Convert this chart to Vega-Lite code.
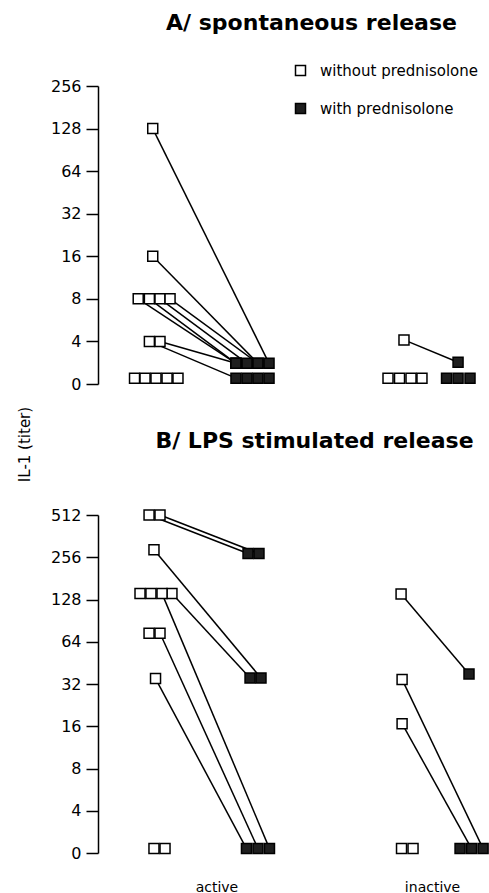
{
  "$schema": "https://vega.github.io/schema/vega-lite/v6.json",
  "padding": {"left": 17, "top": 12, "right": 0, "bottom": 0},
  "background": "white",
  "bounds": "flush",
  "spacing": 131,
  "config": {
    "font": "DejaVu Sans",
    "view": {"stroke": null},
    "axis": {"domainColor": "black", "domainWidth": 1.5, "tickColor": "black", "tickWidth": 1.5, "tickSize": 12, "labelColor": "black", "labelFont": "DejaVu Sans", "labelFontSize": 16, "labelPadding": 5, "grid": false, "titleColor": "black", "titleFont": "DejaVu Sans"},
    "title": {"font": "DejaVu Sans", "fontSize": 22, "fontWeight": "bold", "color": "black", "anchor": "middle", "frame": "group", "baseline": "alphabetic"}
  },
  "resolve": {"scale": {"x": "independent", "y": "independent"}, "legend": {"fill": "independent"}},
  "datasets": {
    "pts": [
      {"panel": "A", "treatment": "without prednisolone", "pos": 4.9, "titer": 128, "patient": "a1"},
      {"panel": "A", "treatment": "without prednisolone", "pos": 4.9, "titer": 16, "patient": "a2"},
      {"panel": "A", "treatment": "without prednisolone", "pos": 3.6, "titer": 8, "patient": "a3"},
      {"panel": "A", "treatment": "without prednisolone", "pos": 4.6, "titer": 8, "patient": "a4"},
      {"panel": "A", "treatment": "without prednisolone", "pos": 5.55, "titer": 8, "patient": "a5"},
      {"panel": "A", "treatment": "without prednisolone", "pos": 6.45, "titer": 8, "patient": "a6"},
      {"panel": "A", "treatment": "without prednisolone", "pos": 4.6, "titer": 4, "patient": "a7"},
      {"panel": "A", "treatment": "without prednisolone", "pos": 5.55, "titer": 4, "patient": "a8"},
      {"panel": "A", "treatment": "without prednisolone", "pos": 3.27, "titer": 2.2},
      {"panel": "A", "treatment": "without prednisolone", "pos": 4.21, "titer": 2.2},
      {"panel": "A", "treatment": "without prednisolone", "pos": 5.19, "titer": 2.2},
      {"panel": "A", "treatment": "without prednisolone", "pos": 6.18, "titer": 2.2},
      {"panel": "A", "treatment": "without prednisolone", "pos": 7.16, "titer": 2.2},
      {"panel": "A", "treatment": "without prednisolone", "pos": 27.39, "titer": 4.1, "patient": "a9"},
      {"panel": "A", "treatment": "without prednisolone", "pos": 25.96, "titer": 2.2},
      {"panel": "A", "treatment": "without prednisolone", "pos": 26.99, "titer": 2.2},
      {"panel": "A", "treatment": "without prednisolone", "pos": 28.02, "titer": 2.2},
      {"panel": "A", "treatment": "without prednisolone", "pos": 29.0, "titer": 2.2},
      {"panel": "A", "treatment": "with prednisolone", "pos": 15.31, "titer": 2.8, "patient": "a1"},
      {"panel": "A", "treatment": "with prednisolone", "pos": 14.32, "titer": 2.8, "patient": "a2"},
      {"panel": "A", "treatment": "with prednisolone", "pos": 12.35, "titer": 2.8, "patient": "a3"},
      {"panel": "A", "treatment": "with prednisolone", "pos": 12.35, "titer": 2.8, "patient": "a4"},
      {"panel": "A", "treatment": "with prednisolone", "pos": 13.34, "titer": 2.8, "patient": "a5"},
      {"panel": "A", "treatment": "with prednisolone", "pos": 14.32, "titer": 2.8, "patient": "a6"},
      {"panel": "A", "treatment": "with prednisolone", "pos": 12.35, "titer": 2.2, "patient": "a7"},
      {"panel": "A", "treatment": "with prednisolone", "pos": 12.35, "titer": 2.8, "patient": "a8"},
      {"panel": "A", "treatment": "with prednisolone", "pos": 13.34, "titer": 2.2},
      {"panel": "A", "treatment": "with prednisolone", "pos": 14.32, "titer": 2.2},
      {"panel": "A", "treatment": "with prednisolone", "pos": 15.31, "titer": 2.2},
      {"panel": "A", "treatment": "with prednisolone", "pos": 32.23, "titer": 2.85, "patient": "a9"},
      {"panel": "A", "treatment": "with prednisolone", "pos": 31.2, "titer": 2.2},
      {"panel": "A", "treatment": "with prednisolone", "pos": 32.23, "titer": 2.2},
      {"panel": "A", "treatment": "with prednisolone", "pos": 33.3, "titer": 2.2},
      {"panel": "B", "treatment": "without prednisolone", "pos": 4.57, "titer": 512, "patient": "b1"},
      {"panel": "B", "treatment": "without prednisolone", "pos": 5.55, "titer": 512, "patient": "b2"},
      {"panel": "B", "treatment": "without prednisolone", "pos": 5.01, "titer": 290, "patient": "b3"},
      {"panel": "B", "treatment": "without prednisolone", "pos": 6.62, "titer": 141, "patient": "b4"},
      {"panel": "B", "treatment": "without prednisolone", "pos": 5.73, "titer": 141, "patient": "b5"},
      {"panel": "B", "treatment": "without prednisolone", "pos": 5.55, "titer": 73.5, "patient": "b6"},
      {"panel": "B", "treatment": "without prednisolone", "pos": 5.15, "titer": 35, "patient": "b7"},
      {"panel": "B", "treatment": "without prednisolone", "pos": 3.76, "titer": 141},
      {"panel": "B", "treatment": "without prednisolone", "pos": 4.74, "titer": 141},
      {"panel": "B", "treatment": "without prednisolone", "pos": 4.57, "titer": 73.5},
      {"panel": "B", "treatment": "without prednisolone", "pos": 5.01, "titer": 2.15},
      {"panel": "B", "treatment": "without prednisolone", "pos": 6.0, "titer": 2.15},
      {"panel": "B", "treatment": "without prednisolone", "pos": 27.13, "titer": 140, "patient": "b8"},
      {"panel": "B", "treatment": "without prednisolone", "pos": 27.22, "titer": 34.5, "patient": "b9"},
      {"panel": "B", "treatment": "without prednisolone", "pos": 27.22, "titer": 16.7, "patient": "b10"},
      {"panel": "B", "treatment": "without prednisolone", "pos": 27.17, "titer": 2.15},
      {"panel": "B", "treatment": "without prednisolone", "pos": 28.2, "titer": 2.15},
      {"panel": "B", "treatment": "with prednisolone", "pos": 13.43, "titer": 272, "patient": "b1"},
      {"panel": "B", "treatment": "with prednisolone", "pos": 14.41, "titer": 272, "patient": "b2"},
      {"panel": "B", "treatment": "with prednisolone", "pos": 14.59, "titer": 35.3, "patient": "b3"},
      {"panel": "B", "treatment": "with prednisolone", "pos": 13.61, "titer": 35.3, "patient": "b4"},
      {"panel": "B", "treatment": "with prednisolone", "pos": 15.35, "titer": 2.15, "patient": "b5"},
      {"panel": "B", "treatment": "with prednisolone", "pos": 14.32, "titer": 2.15, "patient": "b6"},
      {"panel": "B", "treatment": "with prednisolone", "pos": 13.29, "titer": 2.15, "patient": "b7"},
      {"panel": "B", "treatment": "with prednisolone", "pos": 33.21, "titer": 37.7, "patient": "b8"},
      {"panel": "B", "treatment": "with prednisolone", "pos": 34.47, "titer": 2.15, "patient": "b9"},
      {"panel": "B", "treatment": "with prednisolone", "pos": 33.44, "titer": 2.15, "patient": "b10"},
      {"panel": "B", "treatment": "with prednisolone", "pos": 32.41, "titer": 2.15}
    ]
  },
  "vconcat": [
    {
      "title": {"text": "A/ spontaneous release", "offset": 28, "dx": 18},
      "width": 391,
      "height": 298,
      "data": {"name": "pts"},
      "transform": [{"filter": "datum.panel == 'A'"}],
      "encoding": {
        "x": {"field": "pos", "type": "quantitative", "scale": {"domain": [0, 35], "nice": false, "zero": false}, "axis": null},
        "y": {"field": "titer", "type": "quantitative", "scale": {"type": "log", "base": 2, "domain": [2, 256], "nice": false, "zero": false},
              "axis": {"values": [2, 4, 8, 16, 32, 64, 128, 256], "labelExpr": "datum.value <= 2 ? '0' : format(datum.value, 'd')",
                       "title": "IL-1 (titer)", "titleFontSize": 15, "titleFontWeight": "normal", "titleX": -66, "titleY": 358, "titleAngle": -90, "titleAlign": "center", "titleBaseline": "bottom"}}
      },
      "layer": [
        {
          "transform": [{"filter": "isValid(datum.patient)"}],
          "mark": {"type": "line", "color": "black", "strokeWidth": 1.5},
          "encoding": {"detail": {"field": "patient"}}
        },
        {
          "mark": {"type": "point", "shape": "square", "size": 100, "filled": true, "stroke": "black", "strokeWidth": 1.5, "opacity": 1},
          "encoding": {
            "fill": {"field": "treatment", "type": "nominal",
                     "scale": {"domain": ["without prednisolone", "with prednisolone"], "range": ["white", "#1e1e1e"]},
                     "legend": {"title": null, "orient": "none", "legendX": 195, "legendY": -23, "symbolType": "square", "symbolSize": 100,
                                "symbolStrokeColor": "black", "symbolStrokeWidth": 1.5, "labelFontSize": 15, "labelFont": "DejaVu Sans",
                                "labelColor": "black", "rowPadding": 21, "labelOffset": 12, "padding": 0}}
          }
        }
      ]
    },
    {
      "title": {"text": "B/ LPS stimulated release", "offset": 54, "dx": 21},
      "width": 391,
      "height": 338,
      "data": {"name": "pts"},
      "transform": [{"filter": "datum.panel == 'B'"}],
      "encoding": {
        "x": {"field": "pos", "type": "quantitative", "scale": {"domain": [0, 35], "nice": false, "zero": false},
              "axis": {"values": [10.6, 29.9], "labelExpr": "datum.value < 20 ? 'active' : 'inactive'", "domain": false, "ticks": false,
                       "labelFontSize": 14, "labelPadding": 27, "title": null, "grid": false}},
        "y": {"field": "titer", "type": "quantitative", "scale": {"type": "log", "base": 2, "domain": [2, 512], "nice": false, "zero": false},
              "axis": {"values": [2, 4, 8, 16, 32, 64, 128, 256, 512], "labelExpr": "datum.value <= 2 ? '0' : format(datum.value, 'd')", "title": null}}
      },
      "layer": [
        {
          "transform": [{"filter": "isValid(datum.patient)"}],
          "mark": {"type": "line", "color": "black", "strokeWidth": 1.5},
          "encoding": {"detail": {"field": "patient"}}
        },
        {
          "mark": {"type": "point", "shape": "square", "size": 100, "filled": true, "stroke": "black", "strokeWidth": 1.5, "opacity": 1},
          "encoding": {
            "fill": {"field": "treatment", "type": "nominal",
                     "scale": {"domain": ["without prednisolone", "with prednisolone"], "range": ["white", "#1e1e1e"]},
                     "legend": null}
          }
        }
      ]
    }
  ]
}
